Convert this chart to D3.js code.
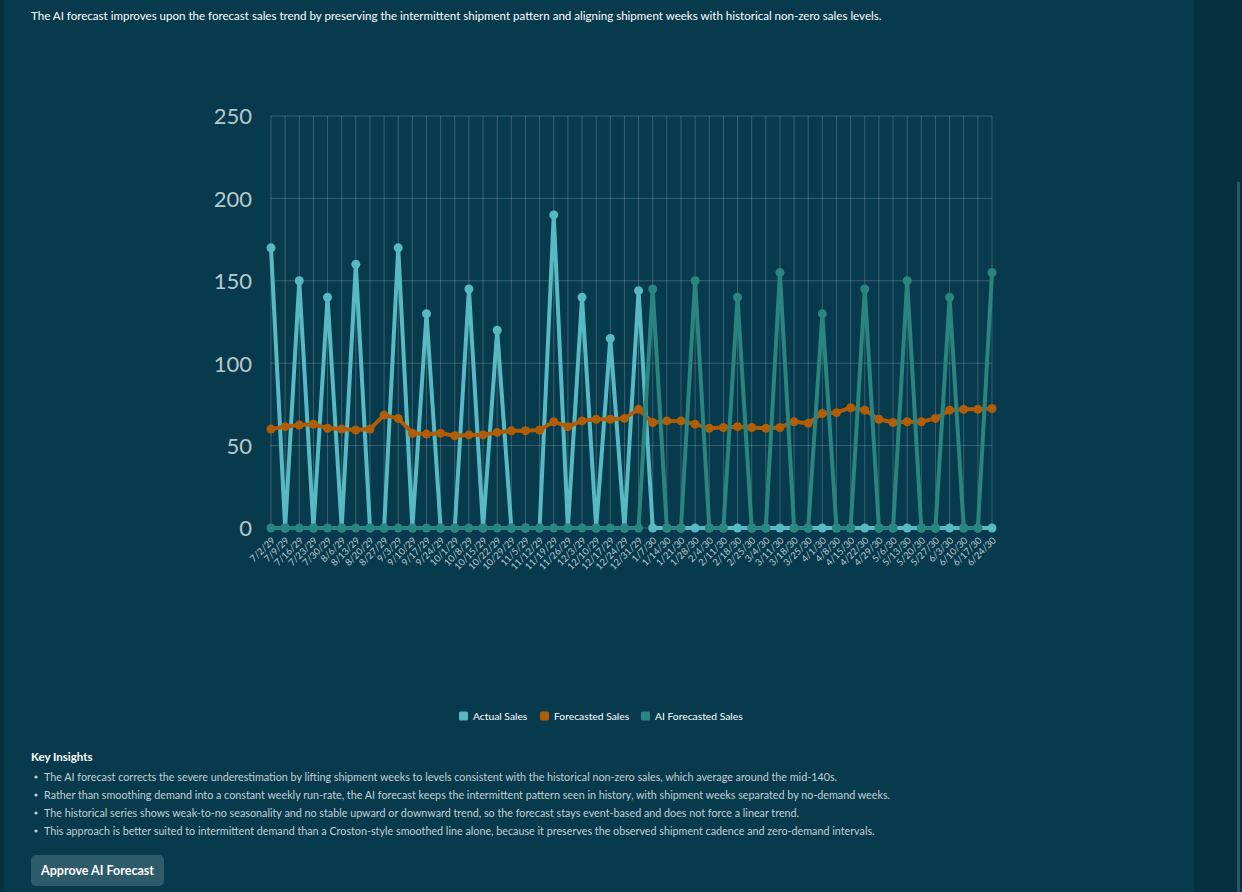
<!DOCTYPE html>
<html>
<head>
<meta charset="utf-8">
<script src="https://cdn.jsdelivr.net/npm/d3@7"></script>
<style>
  html, body { margin: 0; padding: 0; }
  body { width: 1242px; height: 892px; background: #04303f; overflow: hidden; font-family: Lato, "Open Sans", sans-serif; }
  #panel { position: absolute; left: 4px; top: 0; width: 1190px; height: 892px; background: #073a4c; }
  #scroll { position: absolute; left: 1237px; top: 182px; width: 3px; height: 710px; background: #2f5563; }
</style>
</head>
<body>
<div id="panel"></div>
<div id="scroll"></div>
<svg id="chart" width="1242" height="892" style="position:absolute;left:0;top:0"></svg>
<script>
// weekly dates, 7/2/29 .. 6/24/30
var weeks = ["7/2/29","7/9/29","7/16/29","7/23/29","7/30/29","8/6/29","8/13/29","8/20/29","8/27/29",
  "9/3/29","9/10/29","9/17/29","9/24/29","10/1/29","10/8/29","10/15/29","10/22/29","10/29/29",
  "11/5/29","11/12/29","11/19/29","11/26/29","12/3/29","12/10/29","12/17/29","12/24/29","12/31/29",
  "1/7/30","1/14/30","1/21/30","1/28/30","2/4/30","2/11/30","2/18/30","2/25/30","3/4/30","3/11/30",
  "3/18/30","3/25/30","4/1/30","4/8/30","4/15/30","4/22/30","4/29/30","5/6/30","5/13/30","5/20/30",
  "5/27/30","6/3/30","6/10/30","6/17/30","6/24/30"];

var actualSales = [170,0,150,0,140,0,160,0,0,170,0,130,0,0,145,0,120,0,0,0,190,0,140,0,115,0,144,
  0,0,0,0,0,0,0,0,0,0,0,0,0,0,0,0,0,0,0,0,0,0,0,0,0];

var forecastedSales = [60,61.5,62.5,63,60.5,60,59.5,60,68.5,66.5,57.5,57,57.5,56,56.5,56.5,58,59,59,59.5,
  64.5,61.5,65,66,66,66.5,72,64,65,65,63,60.5,61,61.5,61,60.5,61,64.5,63.5,69.5,70,73,71.5,66,64,64.5,
  64.5,66.5,71.5,72,72,72.5];

var aiForecastedSales = [0,0,0,0,0,0,0,0,0,0,0,0,0,0,0,0,0,0,0,0,0,0,0,0,0,0,0,
  145,0,0,150,0,0,140,0,0,155,0,0,130,0,0,145,0,0,150,0,0,140,0,0,155];

var yTicks = [0, 50, 100, 150, 200, 250];

var series = [
  { name: "Actual Sales", values: actualSales, color: "#57b9c2" },
  { name: "Forecasted Sales", values: forecastedSales, color: "#b05d06" },
  { name: "AI Forecasted Sales", values: aiForecastedSales, color: "#2a8480" }
];

var svg = d3.select("#chart");

// header text
svg.append("text")
  .attr("x", 31).attr("y", 20)
  .attr("fill", "#ffffff")
  .attr("font-size", "11.55px")
  .text("The AI forecast improves upon the forecast sales trend by preserving the intermittent shipment pattern and aligning shipment weeks with historical non-zero sales levels.");

var plotLeft = 271, plotRight = 992, plotTop = 116, plotBottom = 528;

var x = d3.scalePoint().domain(weeks).range([plotLeft, plotRight]);
var y = d3.scaleLinear().domain([0, 250]).range([plotBottom, plotTop]);

var g = svg.append("g");

// grid
g.selectAll(".vgrid").data(weeks).enter().append("line")
  .attr("x1", function(d) { return x(d); })
  .attr("x2", function(d) { return x(d); })
  .attr("y1", plotTop).attr("y2", plotBottom)
  .attr("stroke", "rgba(255,255,255,0.2)").attr("stroke-width", 1);
g.selectAll(".hgrid").data(yTicks).enter().append("line")
  .attr("x1", plotLeft).attr("x2", plotRight)
  .attr("y1", function(d) { return y(d); })
  .attr("y2", function(d) { return y(d); })
  .attr("stroke", "rgba(255,255,255,0.2)").attr("stroke-width", 1);

// y axis labels
var yAxis = g.append("g").attr("transform", "translate(" + (plotLeft - 19) + ",0)")
  .call(d3.axisLeft(y).tickValues(yTicks).tickSize(0).tickPadding(0));
yAxis.select(".domain").remove();
yAxis.selectAll("text")
  .attr("fill", "#b9c8ce")
  .attr("font-size", "22px")
  .attr("font-family", "Lato, 'Open Sans', sans-serif")
  .attr("dy", "0.36em");

// x axis labels
var xAxis = g.append("g").attr("transform", "translate(0," + (plotBottom + 9) + ")")
  .call(d3.axisBottom(x).tickSize(0).tickPadding(0));
xAxis.select(".domain").remove();
xAxis.selectAll("text")
  .attr("fill", "#b9c8ce")
  .attr("font-size", "9.5px")
  .attr("font-family", "Lato, 'Open Sans', sans-serif")
  .attr("text-anchor", "end")
  .attr("dy", "0.6em")
  .attr("transform", "rotate(-45)");

// series
var line = d3.line()
  .x(function(d, i) { return x(weeks[i]); })
  .y(function(d) { return y(d); });

series.forEach(function(s) {
  var sg = g.append("g");
  sg.append("path")
    .datum(s.values)
    .attr("d", line)
    .attr("fill", "none")
    .attr("stroke", s.color)
    .attr("stroke-width", 4)
    .attr("stroke-linejoin", "round");
  sg.selectAll("circle").data(s.values).enter().append("circle")
    .attr("cx", function(d, i) { return x(weeks[i]); })
    .attr("cy", function(d) { return y(d); })
    .attr("r", 4.5)
    .attr("fill", s.color);
});

// legend
var legendX = [459, 540, 641];
var legend = svg.append("g");
series.forEach(function(s, i) {
  var lg = legend.append("g").attr("transform", "translate(" + legendX[i] + ",716)");
  lg.append("rect").attr("x", 0).attr("y", -4.5).attr("width", 9).attr("height", 9).attr("rx", 1.5).attr("fill", s.color);
  lg.append("text").attr("x", 14).attr("y", 3.8)
    .attr("fill", "#ffffff").attr("font-size", "10.3px").text(s.name);
});

// insights
var insights = [
  "The AI forecast corrects the severe underestimation by lifting shipment weeks to levels consistent with the historical non-zero sales, which average around the mid-140s.",
  "Rather than smoothing demand into a constant weekly run-rate, the AI forecast keeps the intermittent pattern seen in history, with shipment weeks separated by no-demand weeks.",
  "The historical series shows weak-to-no seasonality and no stable upward or downward trend, so the forecast stays event-based and does not force a linear trend.",
  "This approach is better suited to intermittent demand than a Croston-style smoothed line alone, because it preserves the observed shipment cadence and zero-demand intervals."
];

svg.append("text").attr("x", 31).attr("y", 761)
  .attr("fill", "#ffffff").attr("font-size", "11.5px").attr("font-weight", "bold")
  .text("Key Insights");

var ins = svg.append("g");
insights.forEach(function(t, i) {
  var yy = 777 + i * 18;
  ins.append("circle").attr("cx", 36).attr("cy", yy).attr("r", 1.6).attr("fill", "#c3cfd4");
  ins.append("text").attr("x", 44).attr("y", yy + 3.8)
    .attr("fill", "#c3cfd4").attr("font-size", "10.75px").text(t);
});

// button
var btn = svg.append("g").attr("transform", "translate(31,855)");
btn.append("rect").attr("width", 133).attr("height", 31).attr("rx", 5).attr("fill", "#2d5b69");
btn.append("text").attr("x", 66.5).attr("y", 20).attr("text-anchor", "middle")
  .attr("fill", "#ffffff").attr("font-size", "12.5px").attr("font-weight", "bold")
  .text("Approve AI Forecast");
</script>
</body>
</html>
